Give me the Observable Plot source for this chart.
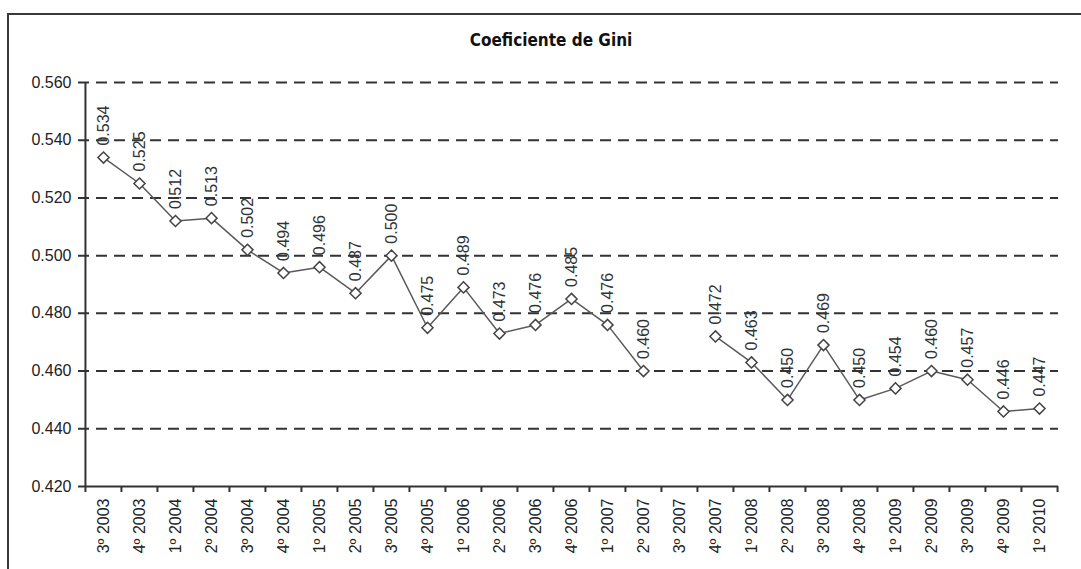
<!DOCTYPE html>
<html><head><meta charset="utf-8">
<script src="https://cdn.jsdelivr.net/npm/d3@7"></script>
<script src="https://cdn.jsdelivr.net/npm/@observablehq/plot@0.6"></script>
<style>
html,body{margin:0;background:#fff;overflow:hidden}
body{width:1081px;height:569px;position:relative;font-family:"Liberation Sans",Arial,sans-serif}
#frame{position:absolute;left:7px;top:13px;width:1074px;height:556px;border-left:2px solid #3a3a3a;border-top:2px solid #3a3a3a;box-sizing:border-box}
#title{position:absolute;left:0;width:1102px;top:30px;text-align:center;font:bold 17px "DejaVu Sans Condensed","DejaVu Sans",sans-serif;color:#111}
#chart{position:absolute;left:0;top:0}
</style></head><body>
<div id="frame"></div>
<div id="title">Coeficiente de Gini</div>
<div id="chart"></div>
<script>
const quarters = ["3º 2003","4º 2003","1º 2004","2º 2004","3º 2004","4º 2004","1º 2005","2º 2005","3º 2005","4º 2005","1º 2006","2º 2006","3º 2006","4º 2006","1º 2007","2º 2007","3º 2007","4º 2007","1º 2008","2º 2008","3º 2008","4º 2008","1º 2009","2º 2009","3º 2009","4º 2009","1º 2010"];
const gini = [0.534,0.525,0.512,0.513,0.502,0.494,0.496,0.487,0.500,0.475,0.489,0.473,0.476,0.485,0.476,0.460,null,0.472,0.463,0.450,0.469,0.450,0.454,0.460,0.457,0.446,0.447];
const yTicks = [0.420,0.440,0.460,0.480,0.500,0.520,0.540,0.560];

const data = quarters.map((q, i) => ({q, v: gini[i]}));
const valid = data.filter(d => d.v != null);
const W = 1081, H = 569, mL = 83, mR = 23, mT = 82, mB = 83;
const step = (W - mL - mR) / quarters.length;
const plotH = H - mT - mB;
const fmt = d3.format(".3f");
const font = '"Liberation Sans", Arial, sans-serif';

const chart = Plot.plot({
  width: W, height: H,
  marginLeft: mL, marginRight: mR, marginTop: mT, marginBottom: mB,
  style: {fontFamily: font, fontSize: "16px", color: "#222", background: "transparent"},
  x: {type: "point", domain: quarters, padding: 0.5},
  y: {domain: [0.42, 0.56]},
  marks: [
    Plot.ruleY(yTicks.filter(t => t > 0.42), {stroke: "#333", strokeWidth: 2, strokeDasharray: "11,7", insetLeft: -5}),
    Plot.ruleY([0.42], {stroke: "#333", strokeWidth: 2, insetLeft: -5}),
    Plot.ruleX([quarters[0]], {dx: -step / 2, stroke: "#333", strokeWidth: 2}),
    Plot.ruleX(quarters, {dx: -step / 2, insetTop: plotH, insetBottom: -6, stroke: "#333", strokeWidth: 2}),
    Plot.ruleX([quarters[quarters.length - 1]], {dx: step / 2, insetTop: plotH, insetBottom: -6, stroke: "#333", strokeWidth: 2}),
    Plot.axisY({ticks: yTicks, tickFormat: fmt, tickSize: 0, tickPadding: 12, label: null, fontSize: 16, fill: "#222"}),
    Plot.axisX({tickRotate: -90, tickSize: 0, tickPadding: 12, label: null, fontSize: 16, fill: "#222"}),
    Plot.line(data, {x: "q", y: "v", stroke: "#5a5a5a", strokeWidth: 1.5}),
    Plot.dot(valid, {x: "q", y: "v", symbol: "diamond2", r: 5, fill: "white", stroke: "#444", strokeWidth: 1.5}),
    Plot.text(valid, {x: "q", y: "v", text: d => fmt(d.v), rotate: -90, textAnchor: "start", dy: -12, fontSize: 16, fill: "#333"})
  ]
});
document.getElementById("chart").appendChild(chart);
</script>
</body></html>
